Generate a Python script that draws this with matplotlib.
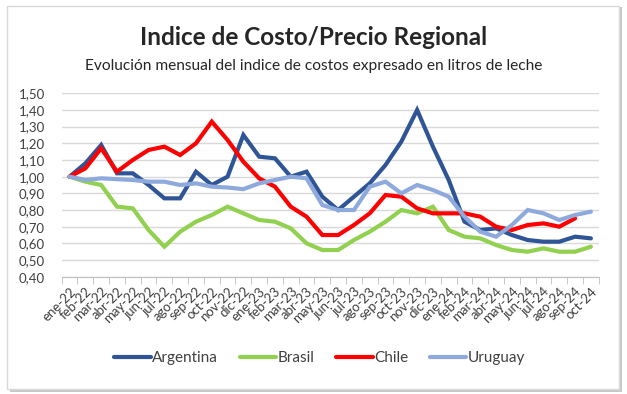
import numpy as np
import matplotlib
matplotlib.use("Agg")
import matplotlib.pyplot as plt
from matplotlib.patches import Rectangle
from matplotlib.ticker import FuncFormatter, MultipleLocator

plt.rcParams['font.family'] = ['Lato', 'DejaVu Sans']

# months ene-22 .. oct-24
months = ['ene-22', 'feb-22', 'mar-22', 'abr-22', 'may-22', 'jun-22', 'jul-22', 'ago-22',
          'sep-22', 'oct-22', 'nov-22', 'dic-22', 'ene-23', 'feb-23', 'mar-23', 'abr-23',
          'may-23', 'jun-23', 'jul-23', 'ago-23', 'sep-23', 'oct-23', 'nov-23', 'dic-23',
          'ene-24', 'feb-24', 'mar-24', 'abr-24', 'may-24', 'jun-24', 'jul-24', 'ago-24',
          'sep-24', 'oct-24']

argentina = [1.00, 1.08, 1.19, 1.02, 1.02, 0.95, 0.87, 0.87, 1.03, 0.95, 1.00, 1.25,
             1.12, 1.11, 1.00, 1.03, 0.88, 0.80, 0.88, 0.96, 1.07, 1.21, 1.40, 1.18,
             0.98, 0.73, 0.68, 0.69, 0.65, 0.62, 0.61, 0.61, 0.64, 0.63]
brasil = [1.00, 0.97, 0.95, 0.82, 0.81, 0.68, 0.58, 0.67, 0.73, 0.77, 0.82, 0.78,
          0.74, 0.73, 0.69, 0.60, 0.56, 0.56, 0.62, 0.67, 0.73, 0.80, 0.78, 0.82,
          0.68, 0.64, 0.63, 0.59, 0.56, 0.55, 0.57, 0.55, 0.55, 0.58]
chile = [1.00, 1.05, 1.17, 1.03, 1.10, 1.16, 1.18, 1.13, 1.20, 1.33, 1.22, 1.09,
         0.99, 0.94, 0.82, 0.76, 0.65, 0.65, 0.71, 0.78, 0.89, 0.88, 0.81, 0.78,
         0.78, 0.78, 0.76, 0.70, 0.68, 0.71, 0.72, 0.70, 0.75, np.nan]
uruguay = [1.00, 0.98, 0.99, 0.985, 0.98, 0.97, 0.97, 0.95, 0.96, 0.94, 0.935, 0.925,
           0.96, 0.98, 1.00, 0.99, 0.83, 0.80, 0.80, 0.94, 0.97, 0.90, 0.95, 0.92,
           0.88, 0.76, 0.67, 0.64, 0.71, 0.80, 0.78, 0.74, 0.77, 0.79]

series = [('Argentina', argentina, '#2F5597'),
          ('Brasil', brasil, '#92D050'),
          ('Chile', chile, '#FF0000'),
          ('Uruguay', uruguay, '#8EA9DB')]

fig = plt.figure(figsize=(6.27, 3.94), dpi=100)

# chart frame with a soft shadow
fig.patches.append(Rectangle((0.016, 0.005), 0.976, 0.978, transform=fig.transFigure,
                             facecolor='#c8c8c8', edgecolor='none', zorder=0))
fig.patches.append(Rectangle((0.011, 0.012), 0.976, 0.972, transform=fig.transFigure,
                             facecolor='white', edgecolor='#d9d9d9', linewidth=1, zorder=1))

ax = fig.add_axes([0.0984, 0.2977, 0.8566, 0.4655])
ax.set_zorder(2)
ax.patch.set_alpha(0)

x = np.arange(len(months))
for name, vals, color in series:
    ax.plot(x, vals, color=color, linewidth=3, label=name, solid_capstyle='round',
            solid_joinstyle='miter')

ax.set_xlim(-0.5, len(months) - 0.5)
ax.set_ylim(0.40, 1.50)
ax.yaxis.set_major_locator(MultipleLocator(0.10))
ax.yaxis.set_major_formatter(FuncFormatter(lambda v, p: f'{v:.2f}'.replace('.', ',')))
ax.grid(axis='y', color='#d9d9d9', linewidth=1)
ax.set_axisbelow(True)

ax.set_xticks(x)
ax.set_xticklabels(months, rotation=45, ha='right', rotation_mode='anchor',
                   fontsize=9.5, color='#404040')
ax.set_xticks(np.arange(-0.5, len(months), 1), minor=True)
ax.tick_params(axis='x', which='major', length=0, pad=6)
ax.tick_params(axis='x', which='minor', length=5, color='#bfbfbf')
ax.tick_params(axis='y', length=0, labelsize=9.5, labelcolor='#404040', pad=12)

for side in ['top', 'right', 'left']:
    ax.spines[side].set_visible(False)
ax.spines['bottom'].set_color('#bfbfbf')

fig.text(0.5, 0.905, 'Indice de Costo/Precio Regional', ha='center', va='center',
         fontsize=17.5, fontweight='bold', color='#262626')
fig.text(0.5, 0.833, 'Evolución mensual del indice de costos expresado en litros de leche',
         ha='center', va='center', fontsize=11.2, color='#262626')

fig.legend(loc='center', bbox_to_anchor=(0.51, 0.091), ncol=4, frameon=False,
           fontsize=11, handlelength=2.4, handletextpad=0.1, columnspacing=1.4,
           labelcolor='#404040')

fig.savefig('out.png', dpi=100)
